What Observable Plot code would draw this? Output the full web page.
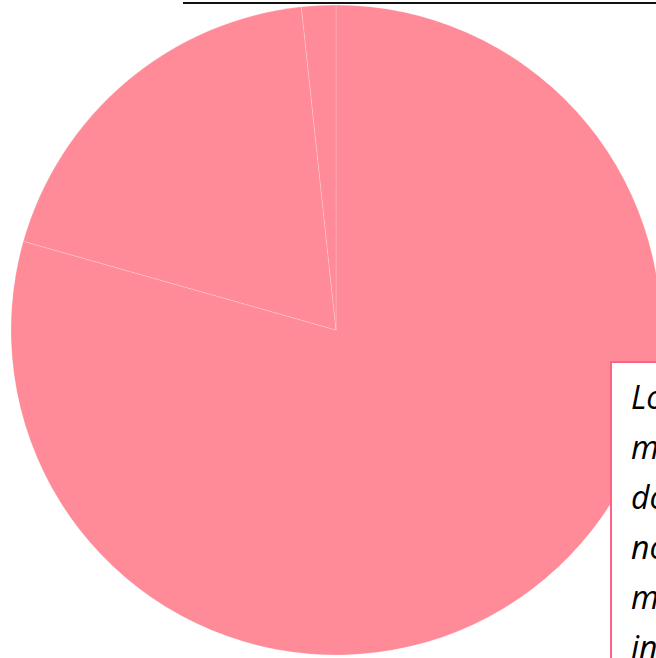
<!DOCTYPE html>
<html>
<head>
<meta charset="utf-8">
<script src="https://cdn.jsdelivr.net/npm/d3@7"></script>
<script src="https://cdn.jsdelivr.net/npm/@observablehq/plot@0.6"></script>
<style>
  html, body { margin: 0; padding: 0; background: white; overflow: hidden; width: 656px; height: 658px; }
  #wrap { position: relative; width: 656px; height: 658px; }
  #topline { position: absolute; left: 183px; top: 2px; width: 473px; height: 0; border-top: 2px solid #111; }
  #box { position: absolute; left: 610px; top: 361px; width: 600px; height: 400px; background: white;
         border: 2px solid rgb(255, 99, 132); box-sizing: border-box;
         padding: 9px 0 0 19px; font-family: "Open Sans", sans-serif; font-style: italic;
         font-size: 32px; line-height: 50px; color: #000; white-space: nowrap; }
</style>
</head>
<body>
<div id="wrap">
  <div id="chart"></div>
  <div id="topline"></div>
  <div id="box"></div>
</div>
<script>
const labels = ["A", "B", "C"];
const values = [79.4, 18.9, 1.7];
const boxLines = ["Lorem ipsum dolor sit amet,", "magna aliqua ut enim", "dolore eu fugiat nulla", "nostrud exercitation", "minim veniam quis", "in voluptate velit"];

const sliceFill = "rgb(255, 138, 152)";
const data = labels.map((label, i) => ({label, value: values[i]}));
const arcs = d3.pie().sort(null).value(d => d.value)(data);

function pieMark(index, scales) {
  const cx = scales.x(0), cy = scales.y(0);
  const r = scales.x(1) - scales.x(0);
  const arc = d3.arc().innerRadius(0).outerRadius(r);
  const g = d3.create("svg:g").attr("transform", `translate(${cx},${cy})`);
  g.selectAll("path").data(arcs).join("path")
    .attr("d", arc)
    .attr("fill", sliceFill)
    .attr("stroke", "white")
    .attr("stroke-opacity", 0.2)
    .attr("stroke-width", 1);
  return g.node();
}

const chart = Plot.plot({
  width: 656,
  height: 658,
  margin: 0,
  x: {domain: [-1, 1], range: [11, 661], axis: null},
  y: {domain: [-1, 1], range: [5, 655], axis: null},
  style: {background: "white", overflow: "visible"},
  marks: [
    Plot.dot([[-1, -1], [1, 1]], {x: d => d[0], y: d => d[1], r: 0, fill: "none", stroke: "none"}),
    pieMark
  ]
});
document.getElementById("chart").appendChild(chart);
document.getElementById("box").innerHTML = boxLines.join("<br>");
</script>
</body>
</html>
